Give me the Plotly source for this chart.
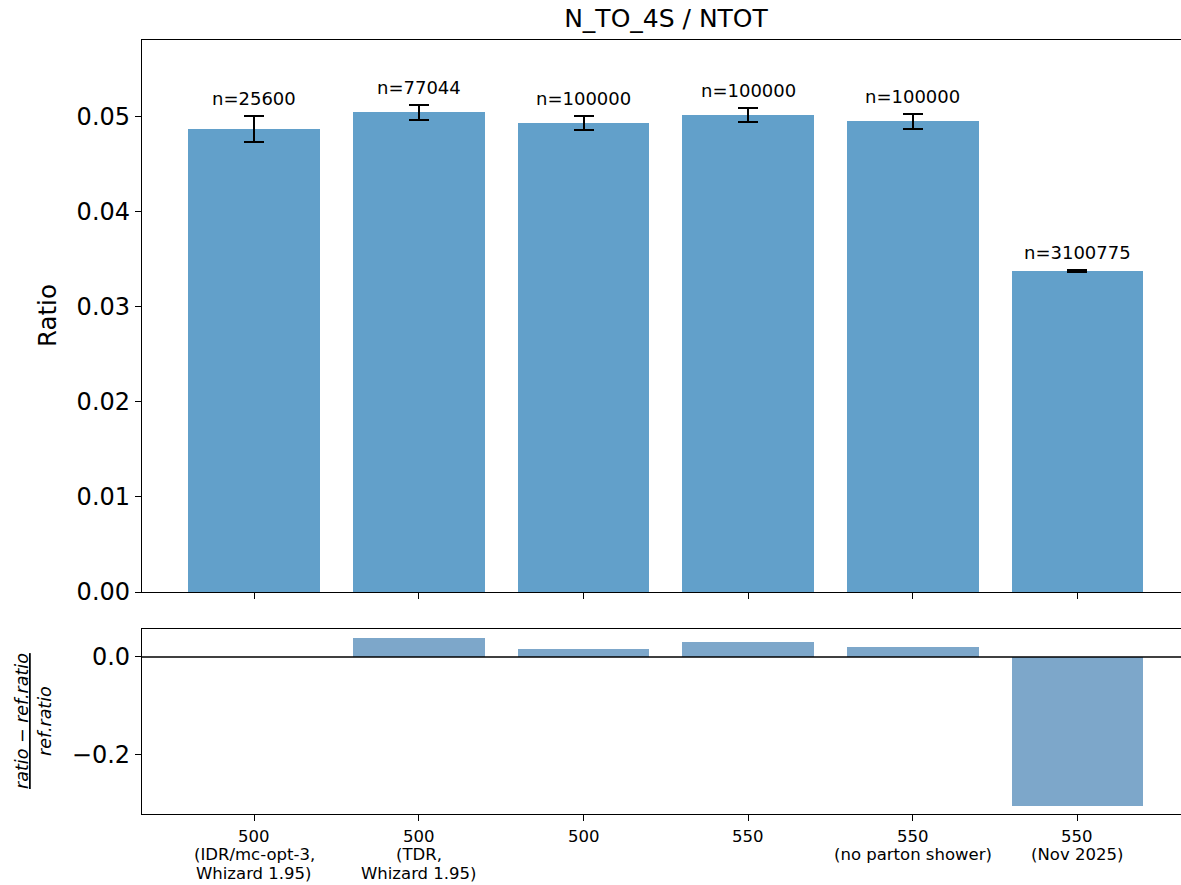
import plotly.graph_objects as go

# ---------------- data ----------------
categories = [
    ["500", "(IDR/mc-opt-3,", "Whizard 1.95)"],
    ["500", "(TDR,", "Whizard 1.95)"],
    ["500"],
    ["550"],
    ["550", "(no parton shower)"],
    ["550", "(Nov 2025)"],
]
positions = [0, 1, 2, 3, 4, 5]
ratio_values = [0.04874, 0.0505, 0.04937, 0.05018, 0.04954, 0.03376]
ratio_errors = [0.00137, 0.0008, 0.00074, 0.00072, 0.00077, 0.00012]
n_events = [25600, 77044, 100000, 100000, 100000, 3100775]
rel_diff = [0.0, 0.0385, 0.017, 0.030, 0.0205, -0.306]

top_ticks = [0.0, 0.01, 0.02, 0.03, 0.04, 0.05]
top_tick_labels = ["0.00", "0.01", "0.02", "0.03", "0.04", "0.05"]
bottom_ticks = [-0.2, 0.0]
bottom_tick_labels = ["\u22120.2", "0.0"]

# ---------------- figure ----------------
W, H = 1181, 885
FONT = "DejaVu Sans"

def px_x(p):
    return p / W

def px_y(p):
    return 1 - p / H

fig = go.Figure()

fig.add_trace(go.Bar(
    x=positions, y=ratio_values, width=0.8,
    marker=dict(color="rgba(31,119,180,0.7)", line=dict(width=0)),
    error_y=dict(type="data", array=ratio_errors, color="black",
                 thickness=2, width=10),
    xaxis="x", yaxis="y", showlegend=False, hoverinfo="skip",
))

fig.add_trace(go.Bar(
    x=positions, y=rel_diff, width=0.8,
    marker=dict(color="rgba(70,130,180,0.7)", line=dict(width=0)),
    xaxis="x2", yaxis="y2", showlegend=False, hoverinfo="skip",
))

xrange = [-0.682, 5.629]
axis_common = dict(
    showline=True, linecolor="black", linewidth=1.3,
    ticks="outside", ticklen=6, tickwidth=1.3, tickcolor="black",
    showgrid=False, zeroline=False,
)

fig.update_layout(
    width=W, height=H,
    margin=dict(l=0, r=0, t=0, b=0, autoexpand=False),
    paper_bgcolor="white", plot_bgcolor="white",
    font=dict(family=FONT, color="black"),
    bargap=0,
    title=dict(text="N_TO_4S / NTOT", x=666 / W, xanchor="center",
               xref="paper", y=1 - 18 / H, yref="container", yanchor="middle",
               font=dict(size=25, family=FONT, color="black")),
    xaxis=dict(domain=[px_x(142), 1], range=xrange, anchor="y",
               tickvals=positions, showticklabels=False, mirror=True,
               **axis_common),
    yaxis=dict(domain=[px_y(592), px_y(40)], range=[0, 0.0581], anchor="x",
               tickvals=top_ticks, ticktext=top_tick_labels, mirror=False,
               tickfont=dict(size=24, family=FONT), **axis_common),
    xaxis2=dict(domain=[px_x(142), 1], range=xrange, anchor="y2",
                tickvals=positions, showticklabels=False, mirror=True,
                **axis_common),
    yaxis2=dict(domain=[px_y(814), px_y(629)], range=[-0.3214, 0.0573],
                anchor="x2", tickvals=bottom_ticks,
                ticktext=bottom_tick_labels, mirror=False,
                tickfont=dict(size=24, family=FONT), **axis_common),
)

# horizontal zero line in the lower panel
fig.add_shape(type="line", xref="x2 domain", yref="y2", x0=0, x1=1,
              y0=0, y1=0, line=dict(color="black", width=1.3))

# category tick labels (one text per line for tight line spacing)
line_centers = [836, 854.5, 873]
for xi, lines in zip(positions, categories):
    for k, line in enumerate(lines):
        fig.add_annotation(x=xi, y=px_y(line_centers[k]), xref="x2",
                           yref="paper", text=line, showarrow=False,
                           xanchor="center", yanchor="middle",
                           font=dict(size=16.5, family=FONT, color="black"))

# n= annotations
for xi, v, e, n in zip(positions, ratio_values, ratio_errors, n_events):
    fig.add_annotation(x=xi, y=v + e, xref="x", yref="y", text=f"n={n}",
                       showarrow=False, yanchor="bottom", yshift=5,
                       font=dict(size=18, family=FONT, color="black"))

# axis titles
fig.add_annotation(text="Ratio", x=px_x(48), y=px_y(315), xref="paper",
                   yref="paper", showarrow=False, textangle=-90,
                   xanchor="center", yanchor="middle",
                   font=dict(size=24.5, family=FONT, color="black"))
fig.add_annotation(text="<u><i>ratio \u2212 ref.ratio</i></u><br><i>ref.ratio</i>",
                   x=px_x(33), y=px_y(721), xref="paper", yref="paper",
                   showarrow=False, textangle=-90,
                   xanchor="center", yanchor="middle",
                   font=dict(size=17.5, family=FONT, color="black"))

fig.write_html(
    "out.html",
    config={"displayModeBar": False},
    post_script="document.body.style.margin='0';"
                "document.body.style.overflow='hidden';",
)
